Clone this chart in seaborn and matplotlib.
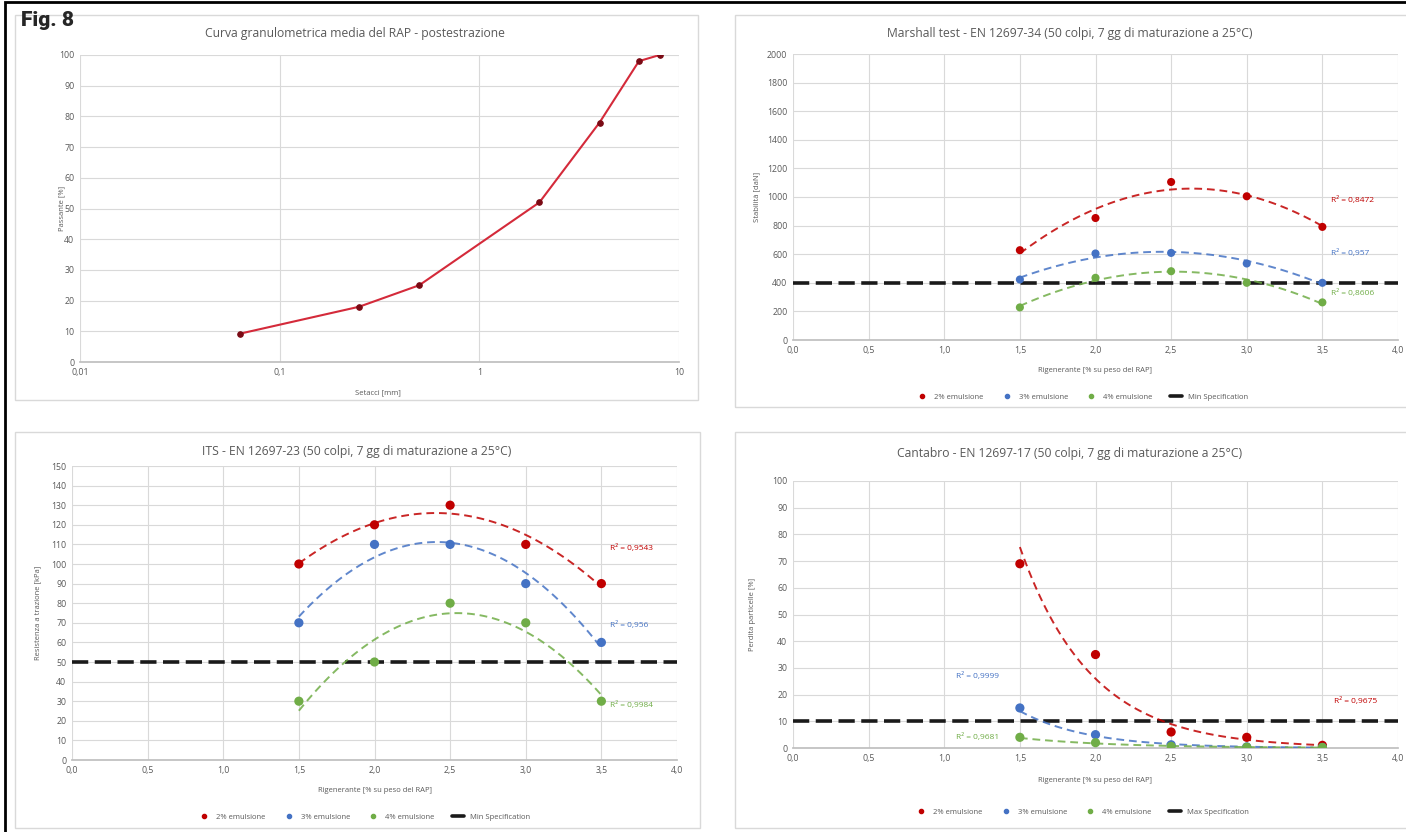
import numpy as np
import pandas as pd
import matplotlib
matplotlib.use("Agg")
import matplotlib.pyplot as plt
from matplotlib.patches import Rectangle
from matplotlib.lines import Line2D
from matplotlib.ticker import FuncFormatter
import seaborn as sns

sns.set_theme(style="white")
plt.rcParams["font.family"] = ["Open Sans", "DejaVu Sans"]

# grading curve of the RAP
sieve_mm = [0.063, 0.25, 0.5, 2, 4, 6.3, 8]
passing = [9.2, 18, 25, 52, 78, 98, 100]

# rejuvenator dosage [% on RAP weight]
rejuv = [1.5, 2.0, 2.5, 3.0, 3.5]
mixes = ["2% emulsione", "3% emulsione", "4% emulsione"]

# Marshall stability [daN]
marshall_2 = [628, 853, 1105, 1005, 791]
marshall_3 = [423, 605, 609, 535, 400]
marshall_4 = [228, 435, 481, 400, 263]
marshall_r2 = ["0,8472", "0,957", "0,8606"]
marshall_min = 400

# ITS [kPa]
its_2 = [100, 120, 130, 110, 90]
its_3 = [70, 110, 110, 90, 60]
its_4 = [30, 50, 80, 70, 30]
its_r2 = ["0,9543", "0,956", "0,9984"]
its_min = 50

# Cantabro particle loss [%]
cant_2 = [69, 35, 6, 4, 1]
cant_3 = [15, 5, 1.2, 0.4, 0.2]
cant_4 = [4, 2, 0.6, 0.3, 0.2]
cant_r2 = ["0,9675", "0,9999", "0,9681"]
cant_max = 10

colors = ["#c00000", "#4472c4", "#70ad47"]
GREY = "#595959"
GRID = "#d9d9d9"
W, H = 1406, 832

fig = plt.figure(figsize=(W / 100, H / 100), dpi=100)


def px_axes(l, t, r, b):
    return fig.add_axes([l / W, 1 - b / H, (r - l) / W, (b - t) / H])


def px_text(x, y, s, **kw):
    fig.text(x / W, 1 - y / H, s, ha="center", va="center", color=GREY, **kw)


def px_box(l, t, r, b, color, lw):
    fig.patches.append(Rectangle((l / W, 1 - b / H), (r - l) / W, (b - t) / H,
                                 transform=fig.transFigure, fill=False,
                                 edgecolor=color, lw=lw, zorder=0))


comma = FuncFormatter(lambda v, p: f"{v:.1f}".replace(".", ","))


def style_axes(ax):
    ax.grid(True, color=GRID, lw=0.8)
    for side in ["top", "right", "left"]:
        ax.spines[side].set_visible(False)
    ax.spines["bottom"].set_color("#bfbfbf")
    ax.tick_params(axis="both", length=0, labelsize=6.3, labelcolor=GREY, pad=4)
    ax.set_xlabel("")
    ax.set_ylabel("")


def trial_panel(ax, series, r2, kind, spec, spec_label, ylim, ystep, r2_pos, legend_xy, ms):
    df = pd.DataFrame({
        "rejuv": rejuv * 3,
        "value": series[0] + series[1] + series[2],
        "mix": np.repeat(mixes, len(rejuv)),
    })
    xs = np.linspace(rejuv[0], rejuv[-1], 120)
    for i, vals in enumerate(series):
        if kind == "poly":
            fit = np.polyval(np.polyfit(rejuv, vals, 2), xs)
        else:
            b, a = np.polyfit(rejuv, np.log(vals), 1)
            fit = np.exp(a + b * xs)
        sns.lineplot(x=xs, y=fit, color=colors[i], ax=ax, lw=1.4,
                     linestyle=(0, (4, 2.5)), alpha=0.85, zorder=3)
    sns.scatterplot(data=df, x="rejuv", y="value", hue="mix", palette=colors,
                    s=ms, edgecolor="none", ax=ax, legend=False, zorder=4)
    ax.axhline(spec, color="#1a1a1a", lw=2.6, dashes=(4.5, 1.8), zorder=2)
    for i, (x, y) in enumerate(r2_pos):
        ax.text(x, y, f"R² = {r2[i]}", color=colors[i], fontsize=6, va="center")
    ax.set_xlim(0, 4)
    ax.set_ylim(*ylim)
    ax.set_xticks(np.arange(0, 4.01, 0.5))
    ax.set_yticks(np.arange(ylim[0], ylim[1] + 0.1, ystep))
    ax.xaxis.set_major_formatter(comma)
    style_axes(ax)
    handles = [Line2D([], [], ls="none", marker="o", ms=3, color=c) for c in colors]
    handles.append(Line2D([], [], color="#1a1a1a", lw=2.6))
    fig.legend(handles, mixes + [spec_label], loc="center",
               bbox_to_anchor=(legend_xy[0] / W, 1 - legend_xy[1] / H),
               ncol=4, frameon=False, fontsize=5.5, handlelength=1.6,
               columnspacing=2.2, labelcolor=GREY)


# outer frame and chart boxes
px_box(5, 2, W + 5, H + 5, "black", 2.0)
px_box(15, 15, 698, 400, GRID, 1.0)
px_box(735, 15, W + 5, 407, GRID, 1.0)
px_box(15, 432, 700, 828, GRID, 1.0)
px_box(735, 432, W + 5, 828, GRID, 1.0)

fig.text(21 / W, 1 - 21 / H, "Fig. 8", ha="left", va="center", fontsize=15,
         fontweight="heavy", family=["Liberation Sans Narrow", "Roboto", "DejaVu Sans"])

# grading curve
ax1 = px_axes(80, 55, 679, 362)
sns.lineplot(x=sieve_mm, y=passing, ax=ax1, color="#d42a3a", lw=1.5,
             marker="o", ms=4, markerfacecolor="#7a0a14", markeredgecolor="#7a0a14")
ax1.set_xscale("log")
ax1.set_xlim(0.01, 10)
ax1.set_ylim(0, 100)
ax1.set_yticks(np.arange(0, 101, 10))
ax1.set_xticks([0.01, 0.1, 1, 10])
ax1.minorticks_off()
ax1.xaxis.set_major_formatter(FuncFormatter(lambda v, p: f"{v:g}".replace(".", ",")))
style_axes(ax1)
px_text(355, 33, "Curva granulometrica media del RAP - postestrazione", fontsize=8.7)
px_text(378, 393, "Setacci [mm]", fontsize=5.5)
px_text(62, 208, "Passante [%]", fontsize=5.5, rotation=90)

# Marshall
ax2 = px_axes(793, 54, 1398, 340)
trial_panel(ax2, [marshall_2, marshall_3, marshall_4], marshall_r2, "poly",
            marshall_min, "Min Specification", (0, 2000), 200,
            [(3.56, 980), (3.56, 605), (3.56, 330)], (1082, 397), 34)
px_text(1070, 33, "Marshall test - EN 12697-34 (50 colpi, 7 gg di maturazione a 25°C)", fontsize=8.7)
px_text(1095, 370, "Rigenerante [% su peso del RAP]", fontsize=5.5)
px_text(757, 197, "Stabilità [daN]", fontsize=5.5, rotation=90)

# ITS
ax3 = px_axes(72, 466, 677, 760)
trial_panel(ax3, [its_2, its_3, its_4], its_r2, "poly",
            its_min, "Min Specification", (0, 150), 10,
            [(3.56, 108), (3.56, 69), (3.56, 28)], (364, 817), 44)
px_text(357, 452, "ITS - EN 12697-23 (50 colpi, 7 gg di maturazione a 25°C)", fontsize=8.7)
px_text(375, 790, "Rigenerante [% su peso del RAP]", fontsize=5.5)
px_text(38, 613, "Resistenza a trazione [kPa]", fontsize=5.5, rotation=90)

# Cantabro
ax4 = px_axes(793, 481, 1398, 748)
trial_panel(ax4, [cant_2, cant_3, cant_4], cant_r2, "exp",
            cant_max, "Max Specification", (0, 100), 10,
            [(3.58, 17.5), (1.08, 27), (1.08, 4)], (1082, 812), 44)
px_text(1070, 453, "Cantabro - EN 12697-17 (50 colpi, 7 gg di maturazione a 25°C)", fontsize=8.7)
px_text(1095, 780, "Rigenerante [% su peso del RAP]", fontsize=5.5)
px_text(752, 614, "Perdita particelle [%]", fontsize=5.5, rotation=90)

plt.savefig("out.png", dpi=100)
